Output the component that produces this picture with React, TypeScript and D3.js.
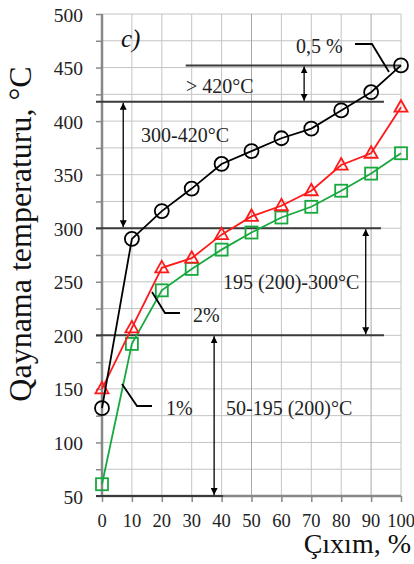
import React, { useEffect, useRef } from 'react';
import * as d3 from 'd3';

// values
const outputPct = [0, 10, 20, 30, 40, 50, 60, 70, 80, 90, 100];
const temp05 = [132, 290, 316, 337, 360, 372, 384, 393, 410, 427, 452];
const temp2 = [150, 207, 263, 272, 294, 311, 321, 335, 359, 370, 413];
const temp1 = [61, 192, 242, 262, 280, 296, 310, 320, 335, 351, 370];
const yTickLabels = [50, 100, 150, 200, 250, 300, 350, 400, 450, 500];
const yGrid = d3.range(50, 501, 25);

// fraction boundaries: [temperature, x from, x to]
const boundaries: [number, number, number][] = [
  [452, 28, 100],
  [418, -2, 94.3],
  [300, -2, 93.3],
  [200, -2, 94.3],
  [50, -2, 40.5],
];
// double arrows: [x, from temp, to temp]
const arrows: [number, number, number][] = [
  [67.6, 452, 418],
  [7.1, 418, 300],
  [88.2, 300, 200],
  [37.5, 200, 50],
];

const FONT = '"Liberation Serif", "Times New Roman", serif';

export default function App() {
  const ref = useRef<SVGSVGElement>(null);

  useEffect(() => {
    const svg = d3.select(ref.current);
    svg.selectAll('*').remove();

    const x = d3.scaleLinear().domain([0, 100]).range([102, 401]);
    const y = d3.scaleLinear().domain([50, 500]).range([496, 14]);

    const defs = svg.append('defs');
    defs.append('marker')
      .attr('id', 'ah')
      .attr('viewBox', '0 0 10 10')
      .attr('refX', 10).attr('refY', 5)
      .attr('markerWidth', 7).attr('markerHeight', 7)
      .attr('markerUnits', 'userSpaceOnUse')
      .attr('orient', 'auto-start-reverse')
      .append('path').attr('d', 'M0,0 L10,5 L0,10 z').attr('fill', '#000');

    // grid
    const grid = svg.append('g').attr('stroke', '#c4c4c4').attr('stroke-width', 1);
    yGrid.forEach(v => {
      grid.append('line').attr('x1', x(0)).attr('x2', x(100)).attr('y1', y(v)).attr('y2', y(v));
    });
    outputPct.forEach(v => {
      grid.append('line').attr('x1', x(v)).attr('x2', x(v)).attr('y1', y(50)).attr('y2', y(500))
        .attr('stroke', v === 90 || v === 50 ? '#a8a8a8' : '#c4c4c4');
    });

    // axes
    const yAxis = d3.axisLeft(y).tickValues(yGrid).tickSize(6).tickFormat(() => '');
    const gy = svg.append('g').attr('transform', `translate(${x(0)},0)`).call(yAxis);
    const xAxis = d3.axisBottom(x).tickValues(outputPct).tickSize(6).tickFormat(() => '');
    const gx = svg.append('g').attr('transform', `translate(0,${y(50)})`).call(xAxis);
    [gx, gy].forEach(g => {
      g.select('.domain').attr('stroke', '#888').attr('stroke-width', 2.5);
      g.selectAll('.tick line').attr('stroke', '#888').attr('stroke-width', 1.5);
    });
    gx.select('.domain').attr('d', `M${x(0)},0H${x(100)}`);
    gy.select('.domain').attr('d', `M0,${y(50)}V${y(500)}`);

    // tick labels
    svg.append('g').selectAll('text').data(yTickLabels).enter().append('text')
      .attr('x', 83).attr('y', d => y(d) + 7.5)
      .attr('text-anchor', 'end')
      .attr('font-family', FONT).attr('font-size', 19.5).attr('fill', '#222')
      .text(d => d);
    svg.append('g').selectAll('text').data(outputPct).enter().append('text')
      .attr('x', d => x(d)).attr('y', y(50) + 31)
      .attr('text-anchor', 'middle')
      .attr('font-family', FONT).attr('font-size', 18.5).attr('fill', '#222')
      .text(d => d);

    // boundary lines
    svg.append('g').selectAll('line').data(boundaries).enter().append('line')
      .attr('x1', d => x(d[1])).attr('x2', d => x(d[2]))
      .attr('y1', d => y(d[0])).attr('y2', d => y(d[0]))
      .attr('stroke', '#3a3a3a').attr('stroke-width', 2);

    svg.append('g').selectAll('line').data(arrows).enter().append('line')
      .attr('x1', d => x(d[0])).attr('x2', d => x(d[0]))
      .attr('y1', d => y(d[1]) + 1).attr('y2', d => y(d[2]) - 1)
      .attr('stroke', '#000').attr('stroke-width', 1.3)
      .attr('marker-start', 'url(#ah)').attr('marker-end', 'url(#ah)');

    // series
    const pts = (vals: number[]) => outputPct.map((p, i) => [x(p), y(vals[i])] as [number, number]);
    const line = d3.line();

    const drawSeries = (vals: number[], color: string, shape: 'circle' | 'tri' | 'sq') => {
      const g = svg.append('g');
      const p = pts(vals);
      g.append('path').attr('d', line(p)).attr('fill', 'none')
        .attr('stroke', color).attr('stroke-width', 1.8);
      p.forEach(([cx, cy]) => {
        if (shape === 'circle') {
          g.append('circle').attr('cx', cx).attr('cy', cy).attr('r', 7)
            .attr('fill', 'none').attr('stroke', color).attr('stroke-width', 1.8);
        } else if (shape === 'tri') {
          g.append('path').attr('d', `M${cx},${cy - 7}L${cx + 6.5},${cy + 4.5}L${cx - 6.5},${cy + 4.5}Z`)
            .attr('fill', 'none').attr('stroke', color).attr('stroke-width', 1.8);
        } else {
          g.append('rect').attr('x', cx - 6).attr('y', cy - 6).attr('width', 12).attr('height', 12)
            .attr('fill', 'none').attr('stroke', color).attr('stroke-width', 1.8);
        }
      });
    };
    drawSeries(temp1, '#17a83e', 'sq');
    drawSeries(temp2, '#ff1a1a', 'tri');
    drawSeries(temp05, '#000', 'circle');

    // leaders
    const leaders = [
      [[355, 44], [372, 44], [389, 72]],
      [[152, 292], [165, 313], [180, 313]],
      [[122, 384], [137, 406], [152, 406]],
    ] as [number, number][][];
    leaders.forEach(l => {
      svg.append('path').attr('d', line(l)).attr('fill', 'none')
        .attr('stroke', '#000').attr('stroke-width', 1.8);
    });

    // labels
    const labels: [string, number, number][] = [
      ['0,5 %', 296, 53],
      ['> 420°C', 186, 93],
      ['300-420°C', 141, 141.5],
      ['195 (200)-300°C', 223, 289],
      ['2%', 193, 322],
      ['1%', 166, 415],
      ['50-195 (200)°C', 226, 415],
    ];
    svg.append('g').selectAll('text').data(labels).enter().append('text')
      .attr('x', d => d[1]).attr('y', d => d[2])
      .attr('font-family', FONT).attr('font-size', 20).attr('fill', '#222')
      .text(d => d[0]);

    svg.append('text').attr('x', 121).attr('y', 47)
      .attr('font-family', FONT).attr('font-size', 25).attr('font-style', 'italic')
      .attr('fill', '#111').text('c)');

    svg.append('text').attr('x', 411).attr('y', 553).attr('text-anchor', 'end')
      .attr('font-family', FONT).attr('font-size', 28).attr('fill', '#111')
      .text('Çıxım, %');

    svg.append('text').attr('transform', 'translate(31,234) rotate(-90)')
      .attr('text-anchor', 'middle')
      .attr('font-family', FONT).attr('font-size', 32).attr('fill', '#111')
      .text('Qaynama temperaturu, °C');
  }, []);

  return (
    <svg ref={ref} width={414} height={564}
      style={{ position: 'absolute', left: 0, top: 0, display: 'block', background: '#fff' }} />
  );
}
